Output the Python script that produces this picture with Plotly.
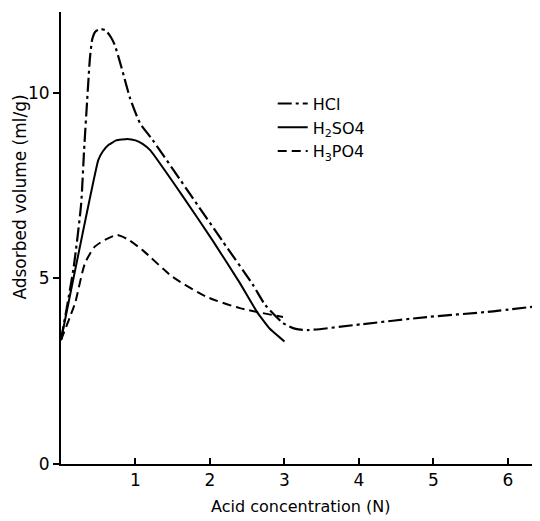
import plotly.graph_objects as go

# Data
hcl_x = [0, 0.17, 0.27, 0.31, 0.35, 0.39, 0.42, 0.46, 0.53, 0.60, 0.67, 0.72, 0.81, 0.93, 1.06, 1.23, 1.74, 2.17, 2.57, 2.74, 2.98, 3.15, 3.32, 4.05, 4.91, 5.73, 6.43]
hcl_y = [3.34, 5.3, 7.0, 8.46, 9.76, 10.97, 11.45, 11.65, 11.72, 11.68, 11.5, 11.3, 10.7, 9.84, 9.19, 8.73, 7.25, 6.0, 4.85, 4.29, 3.8, 3.64, 3.61, 3.77, 3.96, 4.1, 4.26]

h2so4_x = [0, 0.50, 0.56, 0.64, 0.74, 0.89, 1.0, 1.10, 1.20, 1.64, 2.03, 2.40, 2.63, 2.80, 3.0]
h2so4_y = [3.34, 8.19, 8.42, 8.6, 8.72, 8.76, 8.72, 8.62, 8.45, 7.2, 6.04, 4.88, 4.1, 3.65, 3.3]

h3po4_x = [0, 0.12, 0.19, 0.32, 0.45, 0.59, 0.75, 0.90, 1.09, 1.5, 1.96, 2.4, 2.98]
h3po4_y = [3.34, 3.96, 4.34, 5.4, 5.85, 6.04, 6.17, 6.05, 5.77, 5.04, 4.5, 4.2, 3.96]

x_ticks = [1, 2, 3, 4, 5, 6]
y_ticks = [0, 5, 10]

FONT = "DejaVu Sans"

fig = go.Figure()
fig.add_trace(go.Scatter(x=hcl_x, y=hcl_y, mode="lines", name="HCl",
                         line=dict(color="black", width=2.2, dash="14px,4px,3px,4px", shape="spline", smoothing=0.6)))
fig.add_trace(go.Scatter(x=h2so4_x, y=h2so4_y, mode="lines", name="H<sub>2</sub>SO4",
                         line=dict(color="black", width=2, shape="spline", smoothing=0.3)))
fig.add_trace(go.Scatter(x=h3po4_x, y=h3po4_y, mode="lines", name="H<sub>3</sub>PO4",
                         line=dict(color="black", width=2, dash="9px,5px", shape="spline", smoothing=0.6)))

# the page body has an 8px margin, so the figure is sized/positioned to compensate
fig.update_layout(
    width=532, height=513,
    margin=dict(l=53, r=0, t=4, b=57),
    paper_bgcolor="white", plot_bgcolor="white",
    font=dict(family=FONT, size=16, color="black"),
    showlegend=True,
    legend=dict(x=0.442, y=0.835, xanchor="left", yanchor="top",
                bgcolor="rgba(0,0,0,0)", font=dict(size=16), tracegroupgap=0),
    xaxis=dict(range=[0, 6.43], showgrid=False, zeroline=False, showline=True,
               linecolor="black", linewidth=2, tickvals=x_ticks, ticks="inside",
               ticklen=6, tickwidth=1.5, tickcolor="black", tickfont=dict(size=17)),
    yaxis=dict(range=[0, 12.18], showgrid=False, zeroline=False, showline=True,
               linecolor="black", linewidth=2, tickvals=y_ticks, ticks="outside",
               ticklen=6, tickwidth=1.5, tickcolor="black", tickfont=dict(size=17)),
    annotations=[
        dict(text="Acid concentration (N)", xref="paper", yref="paper", x=0.5, y=-0.095,
             xanchor="center", yanchor="middle", showarrow=False, font=dict(size=16)),
        dict(text="Adsorbed volume (ml/g)", xref="paper", yref="paper", x=-0.085, y=0.59,
             xanchor="center", yanchor="middle", showarrow=False, textangle=-90, font=dict(size=17)),
    ],
)

fig.write_html("out.html")
